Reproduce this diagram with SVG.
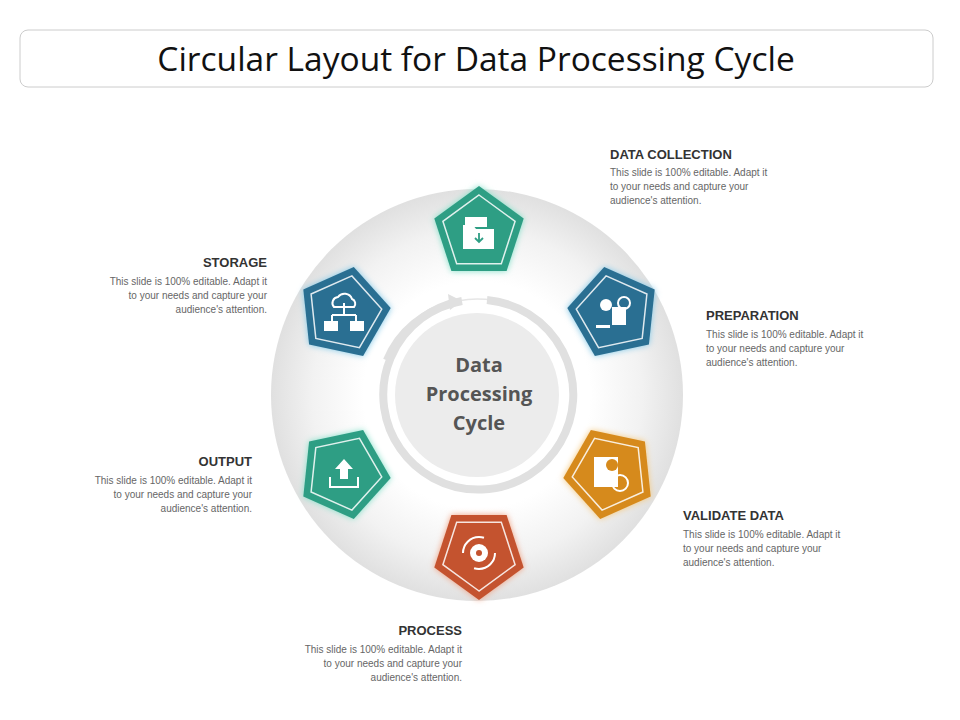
<svg xmlns="http://www.w3.org/2000/svg" width="960" height="720" viewBox="0 0 960 720">
<defs>
<radialGradient id="ringg" cx="0.5" cy="0.5" r="0.5">
<stop offset="0.55" stop-color="#ffffff"/><stop offset="0.8" stop-color="#f2f2f2"/><stop offset="1" stop-color="#e0e0e0"/>
</radialGradient>
<filter id="glow" x="-30%" y="-30%" width="160%" height="160%"><feGaussianBlur stdDeviation="3"/></filter>
<polygon id="pent" points="0,-47 44.7,-14.5 27.6,38 -27.6,38 -44.7,-14.5"/>
<polygon id="pin" points="0,-38 36.1,-11.7 22.3,30.7 -22.3,30.7 -36.1,-11.7"/>
</defs>
<style>
.t{font-family:"Liberation Sans",Arial,sans-serif;font-size:13px;font-weight:bold;fill:#333}
.d{font-family:"Liberation Sans",Arial,sans-serif;font-size:10px;fill:#666}
.pin{fill:none;stroke:#fff;stroke-width:1.5;opacity:0.85}
.ic{fill:#fff}
.ics{fill:none;stroke:#fff;stroke-width:2}
</style>
<rect x="20" y="30" width="913" height="57" rx="8" fill="#fff" stroke="#ccc"/>
<text x="476" y="71" text-anchor="middle" font-family="Open Sans,Liberation Sans,sans-serif" font-size="33.5" fill="#111">Circular Layout for Data Processing Cycle</text>

<g id="ring">
<circle cx="477" cy="395" r="206" fill="url(#ringg)"/>
<circle cx="477" cy="395" r="108" fill="#fff"/>
<circle cx="477" cy="395" r="96" fill="none" stroke="#e6e6e6" stroke-width="1.5"/>
<path d="M 487 300 A 95 95 0 1 1 462 301" fill="none" stroke="#e0e0e0" stroke-width="8"/>
<path d="M 386 360 A 95 95 0 0 1 455 303" fill="none" stroke="#e0e0e0" stroke-width="6"/>
<polygon points="462,301 448,294 450,310" fill="#e0e0e0"/>
<circle cx="477" cy="395" r="82" fill="#ececec"/>
<text x="479" y="372" text-anchor="middle" font-family="Open Sans,Liberation Sans,sans-serif" font-size="20" font-weight="bold" fill="#555">Data</text>
<text x="479" y="401" text-anchor="middle" font-family="Open Sans,Liberation Sans,sans-serif" font-size="20" font-weight="bold" fill="#555">Processing</text>
<text x="479" y="430" text-anchor="middle" font-family="Open Sans,Liberation Sans,sans-serif" font-size="20" font-weight="bold" fill="#555">Cycle</text>
</g>

<g id="n-collection" transform="translate(479,233)">
<use href="#pent" fill="#7fe0c8" filter="url(#glow)"/>
<use href="#pent" fill="#2e9e84"/>
<use href="#pin" class="pin"/>
<rect x="-14" y="-16" width="22" height="10" class="ic"/>
<path d="M-16,-8 h10 l3,4 h18 v20 h-31 z" class="ic"/>
<path d="M0,0 v9 M-4,5 l4,4 4,-4" stroke="#2e9e84" stroke-width="1.8" fill="none"/>
</g>
<g id="n-preparation" transform="translate(614,313) rotate(60)">
<use href="#pent" fill="#7fc8e8" filter="url(#glow)"/>
<use href="#pent" fill="#2a6f92"/>
<use href="#pin" class="pin"/>
<g transform="rotate(-60)">
<rect x="-2" y="-6" width="14" height="18" class="ic"/>
<circle cx="-8" cy="-8" r="6" class="ic"/><circle cx="10" cy="-10" r="6" class="ics"/>
<rect x="-18" y="12" width="14" height="3" class="ic"/>
</g>
</g>
<g id="n-validate" transform="translate(610,473) rotate(120)">
<use href="#pent" fill="#f5c77a" filter="url(#glow)"/>
<use href="#pent" fill="#d68a1c"/>
<use href="#pin" class="pin"/>
<g transform="rotate(-120)">
<rect x="-16" y="-16" width="24" height="30" class="ic"/>
<circle cx="2" cy="-8" r="6" fill="#d68a1c"/>
<circle cx="10" cy="10" r="8" class="ics" stroke-width="3"/>
</g>
</g>
<g id="n-process" transform="translate(479,553) rotate(180)">
<use href="#pent" fill="#f0a080" filter="url(#glow)"/>
<use href="#pent" fill="#c4532f"/>
<use href="#pin" class="pin"/>
<g transform="rotate(180)">
<circle cx="0" cy="0" r="16" class="ics" stroke-dasharray="30 20"/>
<circle cx="0" cy="0" r="9" class="ic"/><circle cx="0" cy="0" r="3" fill="#c4532f"/>
</g>
</g>
<g id="n-output" transform="translate(344,473) rotate(240)">
<use href="#pent" fill="#7fe0c8" filter="url(#glow)"/>
<use href="#pent" fill="#2e9e84"/>
<use href="#pin" class="pin"/>
<g transform="rotate(-240)">
<polygon points="0,-14 -9,-4 -4,-4 -4,6 4,6 4,-4 9,-4" class="ic"/>
<path d="M-14,4 v10 h28 v-10" class="ics" stroke-width="4"/>
</g>
</g>
<g id="n-storage" transform="translate(344,313) rotate(300)">
<use href="#pent" fill="#7fc8e8" filter="url(#glow)"/>
<use href="#pent" fill="#2a6f92"/>
<use href="#pin" class="pin"/>
<g transform="rotate(-300)">
<path d="M-10,-6 a6,6 0 0 1 4,-10 a8,8 0 0 1 14,2 a5,5 0 0 1 2,8 z" class="ics" stroke-width="1.5"/>
<path d="M0,-10 v12 M-12,2 h24 M-12,2 v6 M12,2 v6" class="ics" stroke-width="1.5"/>
<rect x="-20" y="8" width="14" height="10" class="ic"/><rect x="6" y="8" width="14" height="10" class="ic"/>
</g>
</g>

<g id="labels">
<text x="610" y="159" class="t">DATA COLLECTION</text>
<text x="610" y="176" class="d">This slide is 100% editable. Adapt it</text>
<text x="610" y="190" class="d">to your needs and capture your</text>
<text x="610" y="204" class="d">audience's attention.</text>
<text x="706" y="320" class="t">PREPARATION</text>
<text x="706" y="338" class="d">This slide is 100% editable. Adapt it</text>
<text x="706" y="352" class="d">to your needs and capture your</text>
<text x="706" y="366" class="d">audience's attention.</text>
<text x="683" y="520" class="t">VALIDATE DATA</text>
<text x="683" y="538" class="d">This slide is 100% editable. Adapt it</text>
<text x="683" y="552" class="d">to your needs and capture your</text>
<text x="683" y="566" class="d">audience's attention.</text>
<text x="462" y="635" class="t" text-anchor="end">PROCESS</text>
<text x="462" y="653" class="d" text-anchor="end">This slide is 100% editable. Adapt it</text>
<text x="462" y="667" class="d" text-anchor="end">to your needs and capture your</text>
<text x="462" y="681" class="d" text-anchor="end">audience's attention.</text>
<text x="252" y="466" class="t" text-anchor="end">OUTPUT</text>
<text x="252" y="484" class="d" text-anchor="end">This slide is 100% editable. Adapt it</text>
<text x="252" y="498" class="d" text-anchor="end">to your needs and capture your</text>
<text x="252" y="512" class="d" text-anchor="end">audience's attention.</text>
<text x="267" y="267" class="t" text-anchor="end">STORAGE</text>
<text x="267" y="285" class="d" text-anchor="end">This slide is 100% editable. Adapt it</text>
<text x="267" y="299" class="d" text-anchor="end">to your needs and capture your</text>
<text x="267" y="313" class="d" text-anchor="end">audience's attention.</text>
</g>
</svg>
